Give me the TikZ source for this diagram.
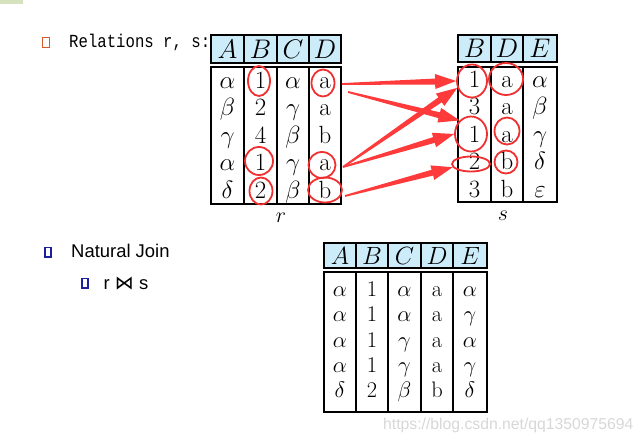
\RequirePackage{fix-cm}
\documentclass[tikz,border=0pt]{standalone}
\usepackage{fontspec}
\usetikzlibrary{calc,shapes.geometric}
\newfontfamily\monofont[FakeStretch=0.85]{Liberation Mono}
\newfontfamily\arialfont{Liberation Sans}
\newfontfamily\djvfont{DejaVu Sans}
\definecolor{hdrblue}{RGB}{204,236,250}
\definecolor{ringred}{RGB}{240,48,48}
\definecolor{arrowred}{RGB}{255,58,58}
\definecolor{bulorange}{RGB}{216,90,40}
\definecolor{bulblue}{RGB}{30,30,160}
\definecolor{topgreen}{RGB}{214,226,190}
\definecolor{markgray}{RGB}{215,215,215}
\newcommand{\redwedge}[2]{%
  \coordinate (wb) at ($(#2)!21bp!(#1)$);
  \fill[arrowred] ($(#1)!0.9bp!90:(#2)$) -- ($(wb)!3bp!90:(#2)$) -- ($(wb)!7.5bp!90:(#2)$) -- (#2)
     -- ($(wb)!7.5bp!-90:(#2)$) -- ($(wb)!3bp!-90:(#2)$) -- ($(#1)!0.9bp!-90:(#2)$) -- cycle;}
\tikzset{
  hdr/.style={draw, fill=hdrblue, line width=1.6bp, inner sep=0pt, font=\fontsize{27}{30}\selectfont},
  hdrsm/.style={hdr, font=\fontsize{25}{28}\selectfont},
  colbox/.style={draw, line width=1.6bp, inner sep=0pt},
  cellr/.style={inner sep=0pt, text height=17.5bp, text depth=5bp, font=\fontsize{25}{28}\selectfont},
  cellt/.style={inner sep=0pt, text height=15.8bp, text depth=4.5bp, font=\fontsize{22.5}{26}\selectfont},
  ring/.style={ellipse, draw=ringred, line width=1.8bp, inner sep=0pt},
  tlabel/.style={inner sep=0pt, font=\fontsize{22}{26}\selectfont},
}
\begin{document}
\begin{tikzpicture}[x=1bp,y=-1bp]
\path[use as bounding box] (0,0) rectangle (642,447);
\fill[topgreen] (0,0) rectangle (23,4);

% bullets and texts
\draw[bulorange, line width=1.3bp] (42.6,37.2) rectangle (49.4,47.6);
\node[anchor=base west, inner sep=0pt, font=\monofont\fontsize{18.5}{22}\selectfont] (rel) at (69,48) {Relations r, s:};
\draw[bulblue, line width=1.1bp] (45,247.5) rectangle (51,257);
\node[anchor=base west, inner sep=0pt, font=\arialfont\fontsize{18.5}{22}\selectfont] (nj) at (71,258) {Natural Join};
\draw[bulblue, line width=1.1bp] (82,278.5) rectangle (88,288);
\node[anchor=base west, inner sep=0pt, font=\arialfont\fontsize{18.5}{22}\selectfont] (rjs) at (103.5,290) {r {\djvfont\fontsize{19}{22}\selectfont ⋈} s};

% ---------- table r ----------
\node[colbox, minimum width=33bp, minimum height=137bp] (rcA) at (227.5,135.5) {};
\node[colbox, minimum width=33bp, minimum height=137bp] (rcB) at (260.5,135.5) {};
\node[colbox, minimum width=32bp, minimum height=137bp] (rcC) at (293,135.5) {};
\node[colbox, minimum width=32bp, minimum height=137bp] (rcD) at (325,135.5) {};
\node[hdr, minimum width=33bp, minimum height=28bp] (rhA) at (227.5,49) {$A$};
\node[hdr, minimum width=33bp, minimum height=28bp] (rhB) at (260.5,49) {$B$};
\node[hdr, minimum width=32bp, minimum height=28bp] (rhC) at (293,49) {$C$};
\node[hdr, minimum width=32bp, minimum height=28bp] (rhD) at (325,49) {$D$};
\foreach \v [count=\i] in {$\alpha$,$\beta$,$\gamma$,$\alpha$,$\delta$}
  \node[cellr] (rA\i) at (227.5,{82+27.5*(\i-1)}) {\v};
\foreach \v [count=\i] in {1,2,4,1,2}
  \node[cellr] (rB\i) at (260.5,{82+27.5*(\i-1)}) {\v};
\foreach \v [count=\i] in {$\alpha$,$\gamma$,$\beta$,$\gamma$,$\beta$}
  \node[cellr] (rC\i) at (293,{82+27.5*(\i-1)}) {\v};
\foreach \v [count=\i] in {a,a,b,a,b}
  \node[cellr] (rD\i) at (325,{82+27.5*(\i-1)}) {\v};
\node[tlabel] (rlab) at (281,218) {$r$};

% ---------- table s ----------
\node[colbox, minimum width=33bp, minimum height=135bp] (scB) at (474.5,134.5) {};
\node[colbox, minimum width=32bp, minimum height=135bp] (scD) at (507,134.5) {};
\node[colbox, minimum width=34bp, minimum height=135bp] (scE) at (540,134.5) {};
\node[hdr, minimum width=33bp, minimum height=27bp] (shB) at (474.5,48.5) {$B$};
\node[hdr, minimum width=32bp, minimum height=27bp] (shD) at (507,48.5) {$D$};
\node[hdr, minimum width=34bp, minimum height=27bp] (shE) at (540,48.5) {$E$};
\foreach \v [count=\i] in {1,3,1,2,3}
  \node[cellr] (sB\i) at (474.5,{81+27.5*(\i-1)}) {\v};
\foreach \v [count=\i] in {a,a,a,b,b}
  \node[cellr] (sD\i) at (507,{81+27.5*(\i-1)}) {\v};
\foreach \v [count=\i] in {$\alpha$,$\beta$,$\gamma$,$\delta$,$\varepsilon$}
  \node[cellr] (sE\i) at (540,{81+27.5*(\i-1)}) {\v};
\node[tlabel] (slab) at (503,216) {$s$};

% ---------- result table ----------
\node[colbox, minimum width=32bp, minimum height=140bp] (tcA) at (340,342) {};
\node[colbox, minimum width=32bp, minimum height=140bp] (tcB) at (372,342) {};
\node[colbox, minimum width=33bp, minimum height=140bp] (tcC) at (404.5,342) {};
\node[colbox, minimum width=32bp, minimum height=140bp] (tcD) at (437,342) {};
\node[colbox, minimum width=34bp, minimum height=140bp] (tcE) at (470,342) {};
\node[hdrsm, minimum width=32bp, minimum height=25bp] (thA) at (340,255.5) {$A$};
\node[hdrsm, minimum width=32bp, minimum height=25bp] (thB) at (372,255.5) {$B$};
\node[hdrsm, minimum width=33bp, minimum height=25bp] (thC) at (404.5,255.5) {$C$};
\node[hdrsm, minimum width=32bp, minimum height=25bp] (thD) at (437,255.5) {$D$};
\node[hdrsm, minimum width=34bp, minimum height=25bp] (thE) at (470,255.5) {$E$};
\foreach \v [count=\i] in {$\alpha$,$\alpha$,$\alpha$,$\alpha$,$\delta$}
  \node[cellt] (tA\i) at (340,{291+25.3*(\i-1)}) {\v};
\foreach \v [count=\i] in {1,1,1,1,2}
  \node[cellt] (tB\i) at (372,{291+25.3*(\i-1)}) {\v};
\foreach \v [count=\i] in {$\alpha$,$\alpha$,$\gamma$,$\gamma$,$\beta$}
  \node[cellt] (tC\i) at (404.5,{291+25.3*(\i-1)}) {\v};
\foreach \v [count=\i] in {a,a,a,a,b}
  \node[cellt] (tD\i) at (437,{291+25.3*(\i-1)}) {\v};
\foreach \v [count=\i] in {$\alpha$,$\gamma$,$\alpha$,$\gamma$,$\delta$}
  \node[cellt] (tE\i) at (470,{291+25.3*(\i-1)}) {\v};

% ---------- rings ----------
\node[ring, minimum width=22bp, minimum height=30bp] (rb1) at (259,81) {};
\node[ring, minimum width=23bp, minimum height=27bp] (rd1) at (323,83) {};
\node[ring, minimum width=28bp, minimum height=28bp] (rb4) at (259,161) {};
\node[ring, minimum width=27bp, minimum height=26bp] (rd4) at (322,165) {};
\node[ring, minimum width=23bp, minimum height=27bp] (rb5) at (261,191) {};
\node[ring, minimum width=34bp, minimum height=25bp] (rd5) at (325,190) {};
\node[ring, minimum width=30bp, minimum height=33bp] (sb1) at (472,81) {};
\node[ring, minimum width=34bp, minimum height=32bp] (sd1) at (506,79) {};
\node[ring, minimum width=32bp, minimum height=35bp] (sb3) at (471,134) {};
\node[ring, minimum width=25bp, minimum height=27bp] (sd3) at (507,131) {};
\node[ring, minimum width=38bp, minimum height=15bp] (sb4) at (471,164) {};
\node[ring, minimum width=23bp, minimum height=23bp] (sd4) at (506,162) {};

% ---------- arrows ----------
\coordinate (p1) at (342,84);
\coordinate (p2) at (348,92);
\coordinate (p4) at (343,167);
\coordinate (p5) at (345,196);
\redwedge{p1}{sb1.west}
\redwedge{p2}{sb3.130}
\redwedge{p4}{sb1.205}
\redwedge{p4}{sb3.180}
\redwedge{p5}{sb4.190}

% watermark
\node[anchor=base west, inner sep=0pt, text=markgray, font=\arialfont\fontsize{15.8}{18}\selectfont] (wm) at (383,429) {https://blog.csdn.net/qq1350975694};
\end{tikzpicture}
\end{document}
